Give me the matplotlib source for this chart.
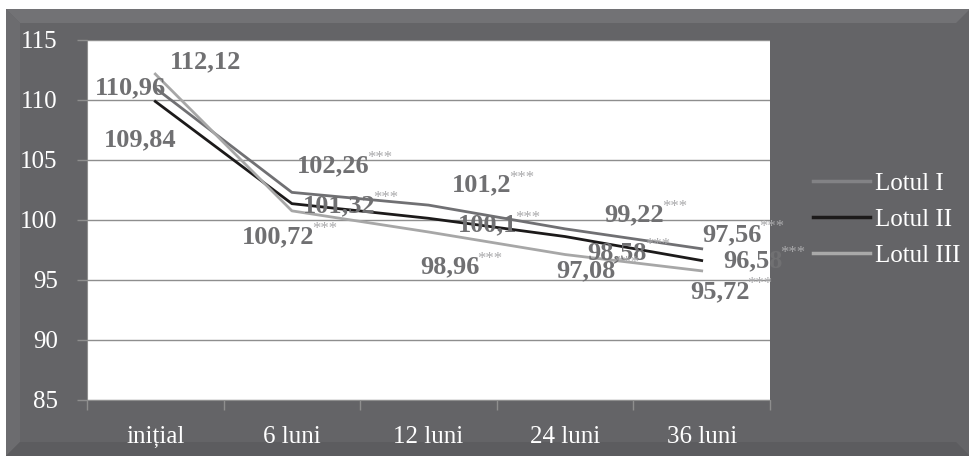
import numpy as np
import matplotlib
matplotlib.use("Agg")
import matplotlib.pyplot as plt
from matplotlib.patches import Rectangle, Polygon

FONT = ["Liberation Serif", "DejaVu Serif"]
plt.rcParams["font.family"] = "serif"
plt.rcParams["font.serif"] = FONT

categories = ["inițial", "6 luni", "12 luni", "24 luni", "36 luni"]
lotul_1 = [110.96, 102.26, 101.2, 99.22, 97.56]
lotul_2 = [109.84, 101.32, 100.1, 98.58, 96.58]
lotul_3 = [112.12, 100.72, 98.96, 97.08, 95.72]
series_names = ["Lotul I", "Lotul II", "Lotul III"]
stars = ["", "***", "***", "***", "***"]

# label offsets in pixels from each point (centre of number)
offsets = [
    [(-25, 0), (41, 27), (53, 20), (69, 14), (30, 14)],
    [(-15, -38), (47, -2), (59, -7), (52, -16), (51, 0)],
    [(50, 12), (-14, -26), (21, -35), (21, -16), (18, -21)],
]
colors = ["#707073", "#1c1a1a", "#a7a7a7"]

W, H = 970, 458
fig = plt.figure(figsize=(W / 100, H / 100), dpi=100)
fig.patch.set_facecolor("white")

# dark frame with bevel
bg = "#646467"
x0, y0, x1, y1 = 6 / W, 2 / H, 1.0, (H - 9) / H
b = 14
bx, by = b / W, b / H
fig.patches.append(Rectangle((x0, y0), x1 - x0, y1 - y0, transform=fig.transFigure,
                             facecolor=bg, edgecolor="none", zorder=-3))
fig.patches.append(Polygon([(x0, y1), (x1, y1), (x1 - bx, y1 - by), (x0 + bx, y1 - by)],
                           closed=True, transform=fig.transFigure,
                           facecolor="#727275", edgecolor="none", zorder=-2))
fig.patches.append(Polygon([(x0, y0), (x0, y1), (x0 + bx, y1 - by), (x0 + bx, y0 + by)],
                           closed=True, transform=fig.transFigure,
                           facecolor="#6c6c6f", edgecolor="none", zorder=-2))
fig.patches.append(Polygon([(x0, y0), (x1, y0), (x1 - bx, y0 + by), (x0 + bx, y0 + by)],
                           closed=True, transform=fig.transFigure,
                           facecolor="#5c5c5f", edgecolor="none", zorder=-2))

ax = fig.add_axes([87 / W, (H - 399.5) / H, (770 - 87) / W, (399.5 - 39.5) / H])
ax.set_facecolor("white")

x = np.arange(len(categories))
for vals, name, col in zip([lotul_1, lotul_2, lotul_3], series_names, colors):
    ax.plot(x, vals, color=col, lw=2.0, label=name, zorder=3)

ax.set_xlim(-0.5, len(categories) - 0.5)
ax.set_ylim(85, 115)
yt = np.arange(85, 116, 5)
ax.set_yticks(yt)
ax.set_yticklabels([str(v) for v in yt], fontfamily=FONT)
ax.yaxis.grid(True, color="#8e8e8e", lw=1.0)
ax.set_axisbelow(True)

ax.set_xticks(x)
ax.set_xticklabels(categories, fontfamily=FONT)
ax.set_xticks(np.arange(-0.5, len(categories), 1), minor=True)
ax.tick_params(axis="x", which="major", length=0, pad=19, labelsize=18, labelcolor="white")
ax.tick_params(axis="x", which="minor", length=7, color="#8e8e8e", width=1)
ax.tick_params(axis="y", length=7, color="#8e8e8e", width=1, pad=14,
               labelsize=18, labelcolor="white")
for s in ["top", "right"]:
    ax.spines[s].set_visible(False)
for s in ["left", "bottom"]:
    ax.spines[s].set_color("#8e8e8e")

for vals, offs in zip([lotul_1, lotul_2, lotul_3], offsets):
    for i, v in enumerate(vals):
        txt = f"{v:g}".replace(".", ",")
        ann = ax.annotate(txt, (x[i], v), xytext=offs[i], textcoords="offset pixels",
                          ha="center", va="center", fontsize=19, fontweight="bold",
                          fontfamily=FONT, color="#707072", zorder=4,
                          annotation_clip=False)
        if stars[i]:
            ax.annotate(stars[i], xy=(1.0, 1.0), xycoords=ann, xytext=(-2, 4),
                        textcoords="offset pixels", ha="left", va="top",
                        fontsize=12, fontfamily=FONT, color="#a9a9ab", zorder=4,
                        annotation_clip=False)

leg = ax.legend(loc="center left", bbox_to_anchor=(1.03, 0.5), frameon=False,
                prop={"family": FONT, "size": 18}, handlelength=2.3,
                handletextpad=0.2, labelspacing=0.55, labelcolor="white")
leg_cols = ["#828285", "#1c1a1a", "#a9a9a9"]
for line, c in zip(leg.get_lines(), leg_cols):
    line.set_linewidth(2.5)
    line.set_color(c)

fig.savefig("out.png", dpi=100, facecolor=fig.get_facecolor())
